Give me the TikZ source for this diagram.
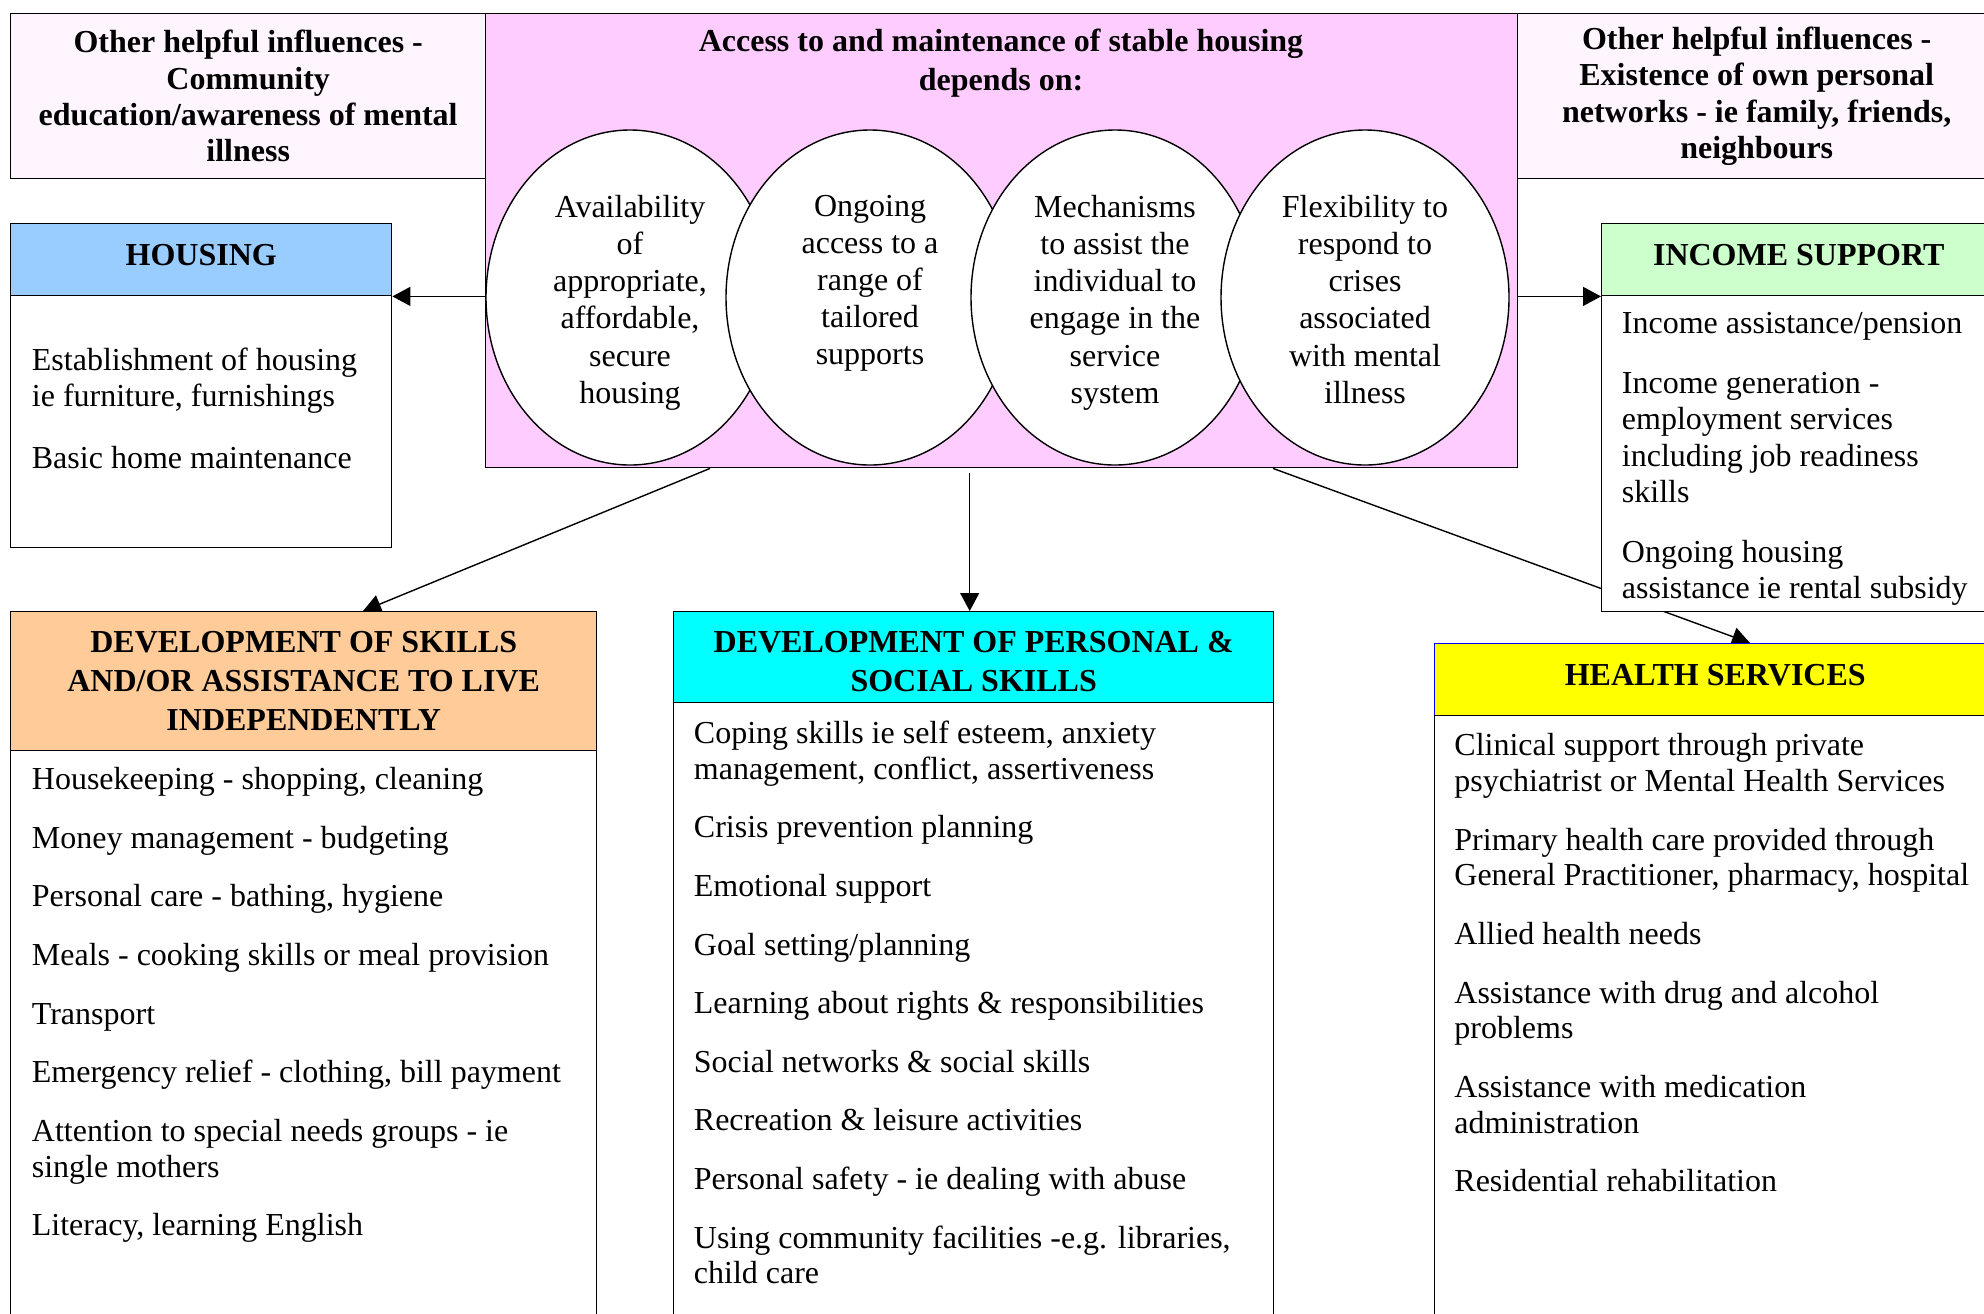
\documentclass[tikz,border=0pt]{standalone}
\usepackage{fontspec}
\setmainfont{Liberation Serif}
\usetikzlibrary{shapes.geometric,arrows.meta,backgrounds,calc}

\definecolor{inflpink}{RGB}{255,245,255}
\definecolor{stablepink}{RGB}{255,204,255}
\definecolor{housingblue}{RGB}{153,204,255}
\definecolor{incomegreen}{RGB}{204,255,204}
\definecolor{skillsorange}{RGB}{255,204,153}
\definecolor{personalcyan}{RGB}{0,255,255}
\definecolor{healthyellow}{RGB}{255,255,0}
\definecolor{healthblue}{RGB}{0,0,255}

\newcommand\bodyfont{\fontsize{16pt}{17.9pt}\selectfont}
\newcommand\headfont{\fontsize{16pt}{19.5pt}\selectfont\bfseries}
\newcommand\inflfont{\fontsize{16pt}{18.2pt}\selectfont\bfseries}
\newcommand\ringtext[1]{\parbox[c][102.5pt][t]{100pt}{\centering\fontsize{16pt}{18.6pt}\selectfont #1}}
\newcommand\itemgap{\\[11.4pt]}

\begin{document}
\begin{tikzpicture}[
      x = 0.5pt,
      y = -0.5pt,
      box/.style = {draw, fill=white, line width=0.7pt, anchor=north west, inner sep=0pt},
      head/.style = {box, font=\headfont, align=center},
      onehead/.style = {head, text height=11pt, text depth=5pt},
      ring/.style = {ellipse, draw, fill=white, line width=0.7pt, inner sep=0pt,
                     minimum width=144pt, minimum height=167.5pt},
      items/.style = {anchor=north west, inner sep=0pt, align=left, font=\bodyfont},
      arr/.style = {line width=0.7pt, -{Triangle[length=9pt,width=9.5pt]}},
  ]

  \useasboundingbox (0,0) rectangle (1984,1313);
  \clip (0,0) rectangle (1984,1313);

  % top row
  \node[box, fill=inflpink, font=\inflfont, align=center, minimum width=237.5pt, minimum height=82.5pt]
    (commun) at (10,13) {Other helpful influences -\\Community\\education/awareness of mental\\illness};
  \node[box, fill=stablepink, minimum width=516pt, minimum height=227pt] (stable) at (485,13) {};
  \node[box, fill=inflpink, font=\inflfont, align=center, minimum width=239pt, minimum height=82.5pt]
    (network) at (1517,13) {Other helpful influences -\\Existence of own personal\\networks - ie family, friends,\\neighbours};

  \node[font=\headfont, align=center, anchor=north, inner sep=0pt] (stabletitle) at (1001,29)
    {Access to and maintenance of stable housing\\depends on:};

  \node[ring] (avail) at (630,297.5) {\ringtext{Availability\\of\\appropriate,\\affordable,\\secure\\housing}};
  \node[ring] (ongoing) at (870,297.5) {\ringtext{Ongoing\\access to a\\range of\\tailored\\supports}};
  \node[ring] (mechan) at (1115,297.5) {\ringtext{Mechanisms\\to assist the\\individual to\\engage in the\\service\\system}};
  \node[ring] (flexi) at (1365,297.5) {\ringtext{Flexibility to\\respond to\\crises\\associated\\with mental\\illness}};

  % housing
  \node[onehead, fill=housingblue, minimum width=190.5pt, minimum height=36pt] (housinghead) at (10,223) {HOUSING};
  \node[box, minimum width=190.5pt, minimum height=126pt] (housingbody) at (10,295) {};
  \node[items] (housingtext) at (31.5,347.5)
    {Establishment of housing\\ie furniture, furnishings\\[13.4pt]Basic home maintenance};

  % income support
  \node[onehead, fill=incomegreen, minimum width=197pt, minimum height=36pt] (incomehead) at (1601,223) {INCOME SUPPORT};
  \node[box, minimum width=197pt, minimum height=158pt] (incomebody) at (1601,295) {};
  \node[items, font={\fontsize{16pt}{18.3pt}\selectfont}] (incometext) at (1621.5,312)
    {Income assistance/pension\itemgap
     Income generation -\\employment services\\including job readiness\\skills\itemgap
     Ongoing housing\\assistance ie rental subsidy};

  % skills
  \node[head, fill=skillsorange, minimum width=293pt, minimum height=69.5pt] (skillshead) at (10,611)
    {DEVELOPMENT OF SKILLS\\AND/OR ASSISTANCE TO LIVE\\INDEPENDENTLY};
  \node[box, minimum width=293pt, minimum height=300pt] (skillsbody) at (10,750) {};
  \node[items] (skillstext) at (31.5,767)
    {Housekeeping - shopping, cleaning\itemgap
     Money management - budgeting\itemgap
     Personal care - bathing, hygiene\itemgap
     Meals - cooking skills or meal provision\itemgap
     Transport\itemgap
     Emergency relief - clothing, bill payment\itemgap
     Attention to special needs groups - ie\\single mothers\itemgap
     Literacy, learning English};

  % personal and social
  \node[head, fill=personalcyan, minimum width=300pt, minimum height=45.5pt] (personalhead) at (673,611)
    {\rule{0pt}{15pt}DEVELOPMENT OF PERSONAL \&\\SOCIAL SKILLS};
  \node[box, minimum width=300pt, minimum height=330pt] (personalbody) at (673,702) {};
  \node[items] (personaltext) at (693.5,720.5)
    {Coping skills ie self esteem, anxiety\\management, conflict, assertiveness\itemgap
     Crisis prevention planning\itemgap
     Emotional support\itemgap
     Goal setting/planning\itemgap
     Learning about rights \& responsibilities\itemgap
     Social networks \& social skills\itemgap
     Recreation \& leisure activities\itemgap
     Personal safety - ie dealing with abuse\itemgap
     Using community facilities -e.g. libraries,\\child care};

  % health
  \node[onehead, draw=healthblue, fill=healthyellow, minimum width=280.5pt, minimum height=36pt] (healthhead) at (1434,643) {HEALTH SERVICES};
  \node[box, minimum width=280.5pt, minimum height=320pt] (healthbody) at (1434,715) {};
  \node[items] (healthtext) at (1454,733)
    {Clinical support through private\\psychiatrist or Mental Health Services\itemgap
     Primary health care provided through\\General Practitioner, pharmacy, hospital\itemgap
     Allied health needs\itemgap
     Assistance with drug and alcohol\\problems\itemgap
     Assistance with medication\\administration\itemgap
     Residential rehabilitation};

  \begin{pgfonlayer}{background}
  \draw[arr] (stable.west |- housinghead.south east) -- (housinghead.south east);
  \draw[arr] (stable.east |- incomehead.south west) -- (incomehead.south west);
  \draw[arr] ([xshift=112.5pt]stable.south west) -- ([xshift=176.5pt]skillshead.north west);
  \draw[arr] ($(personalhead.north |- stable.south)+(-4,5)$) -- ($(personalhead.north)+(-4,0)$);
  \draw[arr] ([xshift=394pt]stable.south west) -- ([xshift=158pt]healthhead.north west);
  \end{pgfonlayer}

  \end{tikzpicture}
\end{document}
